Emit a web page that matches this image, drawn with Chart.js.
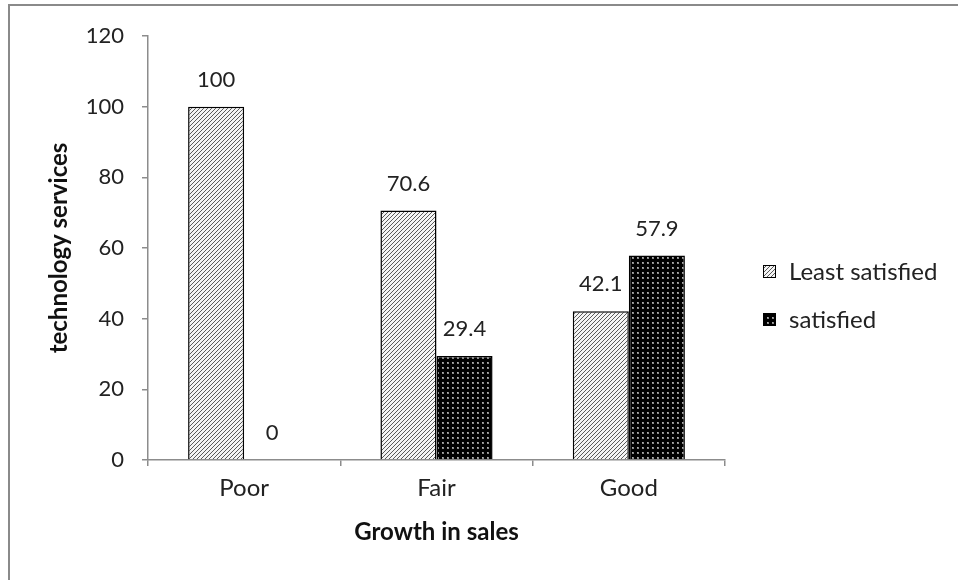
<!DOCTYPE html>
<html>
<head>
<meta charset="utf-8">
<script src="https://cdn.jsdelivr.net/npm/chart.js@4"></script>
<style>
  html, body { margin: 0; padding: 0; background: #fff; }
  #wrap { width: 958px; height: 580px; }
</style>
</head>
<body>
<div id="wrap"><canvas id="salesChart" width="958" height="580"></canvas></div>
<script>
const categories = ["Poor", "Fair", "Good"];
const leastSatisfied = [100, 70.6, 42.1];
const satisfied = [0, 29.4, 57.9];
const seriesNames = ["Least satisfied", "satisfied"];

const FONT = "Lato, 'Open Sans', sans-serif";
const AXIS_GRAY = "#8c8c8c";

// diagonal hatch fill
function hatchPattern(ctx) {
    const c = document.createElement("canvas");
    c.width = 4; c.height = 4;
    const g = c.getContext("2d");
    g.fillStyle = "#f4f4f4";
    g.fillRect(0, 0, 4, 4);
    g.strokeStyle = "#5a5a5a";
    g.lineWidth = 1;
    g.beginPath();
    g.moveTo(-1, 5); g.lineTo(5, -1);
    g.moveTo(-1, 1); g.lineTo(1, -1);
    g.moveTo(3, 5); g.lineTo(5, 3);
    g.stroke();
    return ctx.createPattern(c, "repeat");
}

// black fill with small grey dots
function dotPattern(ctx) {
    const c = document.createElement("canvas");
    c.width = 5; c.height = 5;
    const g = c.getContext("2d");
    g.fillStyle = "#000";
    g.fillRect(0, 0, 5, 5);
    g.fillStyle = "#8a8a8a";
    g.fillRect(2, 2, 2, 2);
    g.fillStyle = "#b0b0b0";
    g.fillRect(2, 2, 1, 1);
    return ctx.createPattern(c, "repeat");
}

const canvas = document.getElementById("salesChart");
const ctx = canvas.getContext("2d");
const fills = [hatchPattern(ctx), dotPattern(ctx)];

const frame = {
    id: "frame",
    beforeDraw(chart) {
        const c = chart.ctx;
        c.save();
        c.fillStyle = "#fff";
        c.fillRect(0, 0, chart.width, chart.height);
        c.strokeStyle = "#8a8a8a";
        c.lineWidth = 2;
        c.strokeRect(9, 5, 960, 590);
        c.restore();
    }
};

const valueLabels = {
    id: "valueLabels",
    afterDatasetsDraw(chart) {
        const c = chart.ctx;
        c.save();
        c.font = "22px " + FONT;
        c.fillStyle = "#222";
        c.textAlign = "center";
        c.textBaseline = "middle";
        chart.data.datasets.forEach((ds, i) => {
            chart.getDatasetMeta(i).data.forEach((bar, j) => {
                c.fillText(String(ds.data[j]), bar.x, bar.y - 27);
            });
        });
        c.restore();
    }
};

const sideLegend = {
    id: "sideLegend",
    afterDraw(chart) {
        const c = chart.ctx;
        c.save();
        c.font = "24px " + FONT;
        c.textBaseline = "middle";
        chart.data.datasets.forEach((ds, i) => {
            const y = 271 + i * 48;
            c.fillStyle = ds.backgroundColor;
            c.fillRect(763, y - 6, 13, 13);
            c.strokeStyle = "#000";
            c.lineWidth = 1;
            c.strokeRect(763.5, y - 5.5, 12, 12);
            c.fillStyle = "#222";
            c.fillText(ds.label, 789, y + 1);
        });
        c.restore();
    }
};

new Chart(canvas, {
    type: "bar",
    data: {
        labels: categories,
        datasets: [
            {
                label: seriesNames[0],
                data: leastSatisfied,
                backgroundColor: fills[0],
                borderColor: "#000",
                borderWidth: 1.5
            },
            {
                label: seriesNames[1],
                data: satisfied,
                backgroundColor: fills[1],
                borderColor: "#000",
                borderWidth: 1.5
            }
        ]
    },
    options: {
        responsive: false,
        animation: false,
        layout: { padding: { top: 36, right: 233, bottom: 0, left: 0 } },
        datasets: { bar: { categoryPercentage: 0.583, barPercentage: 1 } },
        plugins: {
            legend: { display: false },
            tooltip: { enabled: false }
        },
        scales: {
            x: {
                afterFit: s => { s.height = 120; },
                border: { display: true, color: AXIS_GRAY, width: 1.5 },
                grid: { offset: true, drawOnChartArea: false, drawTicks: true, tickLength: 6, color: AXIS_GRAY, lineWidth: 1.5 },
                ticks: { color: "#222", font: { family: FONT, size: 24 }, padding: 8 },
                title: {
                    display: true,
                    text: "Growth in sales",
                    color: "#111",
                    font: { family: FONT, size: 24, weight: "bold" },
                    padding: { top: 0, bottom: 33 }
                }
            },
            y: {
                min: 0,
                max: 120,
                afterFit: s => { s.width = 148; },
                border: { display: true, color: AXIS_GRAY, width: 1.5 },
                grid: { drawOnChartArea: false, drawTicks: true, tickLength: 6, color: AXIS_GRAY, lineWidth: 1.5 },
                ticks: { stepSize: 20, color: "#222", font: { family: FONT, size: 22 }, padding: 18 },
                title: {
                    display: true,
                    text: "technology services",
                    color: "#111",
                    font: { family: FONT, size: 24, weight: "bold" },
                    padding: { top: 45, bottom: 0 }
                }
            }
        }
    },
    plugins: [frame, valueLabels, sideLegend]
});
</script>
</body>
</html>
